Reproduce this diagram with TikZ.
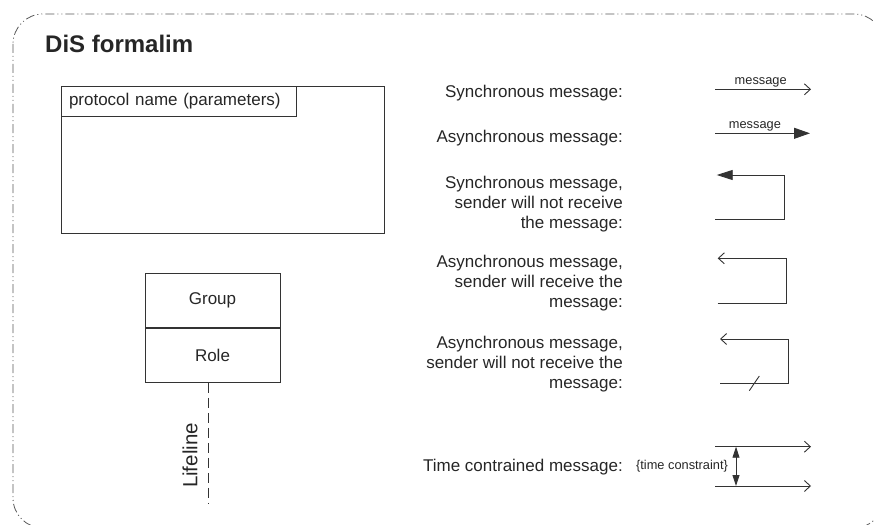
\documentclass[tikz,border=0pt]{standalone}
\usepackage{fontspec}
\setmainfont{Liberation Sans}
\usetikzlibrary{arrows.meta,positioning}
\colorlet{LineGray}{black!80}
\colorlet{FrameGray}{black!65}
\colorlet{TextGray}{black!85}
\tikzstyle{frameLine}=[draw=FrameGray, line width=0.8pt, rounded corners=30pt, dash pattern=on 9pt off 3pt on 1pt off 3pt on 1pt off 3pt]
\tikzstyle{box}=[draw=LineGray, line width=0.9pt, inner sep=0pt, text=TextGray, font=\fontsize{17}{20}\selectfont]
\tikzstyle{descText}=[align=right, inner sep=0pt, anchor=base east, text=TextGray, font=\fontsize{17}{20}\selectfont]
\tikzstyle{msgLabel}=[inner sep=0pt, text=TextGray, font=\fontsize{12.8}{14}\selectfont]
\tikzstyle{msgLine}=[draw=LineGray, line width=0.9pt]
\tikzstyle{syncMsg}=[msgLine, -{Straight Barb[length=6pt,width=11pt]}]
\tikzstyle{asyncMsg}=[msgLine, -{Triangle[length=16pt,width=11pt]}]
\tikzstyle{lifeline}=[draw=LineGray, line width=0.9pt, dash pattern=on 10pt off 5pt]

\begin{document}
\begin{tikzpicture}[x=1pt,y=-1pt]
    \useasboundingbox (0,0) rectangle (874,524);
    \clip (0,0) rectangle (874,524);

    % Frame and title
    \draw[frameLine] (13,14) rectangle (884,528);
    \node[anchor=base west, inner sep=0pt, text=TextGray, font=\bfseries\fontsize{24}{28}\selectfont] (title) at (45,52.7) {DiS formalim};

    % Protocol box
    \node[box, minimum width=323pt, minimum height=147pt] (protocol) at (223,160) {};
    \node[box, anchor=north west, minimum height=30pt, inner xsep=7.5pt, text width=220pt, align=left] (protocolName) at (protocol.north west) {protocol name (parameters)};

    % Group / role with lifeline
    \node[box, minimum width=135pt, minimum height=54pt] (group) at (212.5,300.5) {Group};
    \node[box, minimum width=135pt, minimum height=54pt, below=0pt of group] (role) {Role};
    \coordinate (lifeEnd) at (208,504);
    \draw[lifeline] (role.south -| lifeEnd) -- (lifeEnd);
    \node[inner sep=0pt, rotate=90, text=TextGray, font=\fontsize{20.5}{24}\selectfont] (lifeText) at (190,455.5) {Lifeline};

    % Descriptions (base = last line)
    \node[descText] (syncText) at (623,98) {Synchronous message:};
    \node[descText] (asyncText) at (623,142) {Asynchronous message:};
    \node[descText] (syncLostText) at (623,228) {Synchronous message,\\ sender will not receive\\ the message:};
    \node[descText] (asyncBackText) at (623,307) {Asynchronous message,\\ sender will receive the\\ message:};
    \node[descText] (asyncLostText) at (623,388.7) {Asynchronous message,\\ sender will not receive the\\ message:};
    \node[descText] (timeText) at (623,471.3) {Time contrained message:};

    % Message arrows
    \coordinate (syncA) at (715,89.3);
    \coordinate (syncB) at (811,89.3);
    \draw[syncMsg] (syncA) -- node[msgLabel, pos=0.476, above=1.5pt] (syncLabel) {message} (syncB);
    \coordinate (asyncA) at (715,133.3);
    \coordinate (asyncB) at (810,133.3);
    \draw[asyncMsg] (asyncA) -- node[msgLabel, pos=0.42, above=1.5pt] (asyncLabel) {message} (asyncB);

    \coordinate (lostOut1) at (715,219.3);
    \coordinate (turn1) at (784.3,175);
    \coordinate (lostIn1) at (716.7,175);
    \draw[asyncMsg, -{Triangle[length=16pt,width=10pt]}] (lostOut1) -| (turn1) -- (lostIn1);

    \coordinate (backOut) at (717.7,303.3);
    \coordinate (turn2) at (786.7,258.3);
    \coordinate (backIn) at (717.7,258.3);
    \draw[syncMsg] (backOut) -| (turn2) -- (backIn);

    \coordinate (lostOut2) at (720,383.3);
    \coordinate (turn3) at (788.7,339);
    \coordinate (lostIn2) at (720,339);
    \draw[syncMsg] (lostOut2) -| (turn3) -- (lostIn2);
    \coordinate (cutA) at (749.3,390.7);
    \coordinate (cutB) at (759.3,376);
    \draw[msgLine] (cutA) -- (cutB);

    % Time constraint
    \coordinate (timeA) at (715,446.7);
    \coordinate (timeB) at (811,446.7);
    \coordinate (timeC) at (715,486);
    \coordinate (timeD) at (811,486);
    \draw[syncMsg] (timeA) -- (timeB);
    \draw[syncMsg] (timeC) -- (timeD);
    \coordinate (gapTop) at (736,446.7);
    \coordinate (gapBottom) at (736,486);
    \draw[msgLine, {Triangle[length=11pt,width=7pt]}-{Triangle[length=11pt,width=7pt]}] (gapTop) -- (gapBottom);
    \node[msgLabel] (gapText) at (682,466.5) {\{time constraint\}};
\end{tikzpicture}
\end{document}
